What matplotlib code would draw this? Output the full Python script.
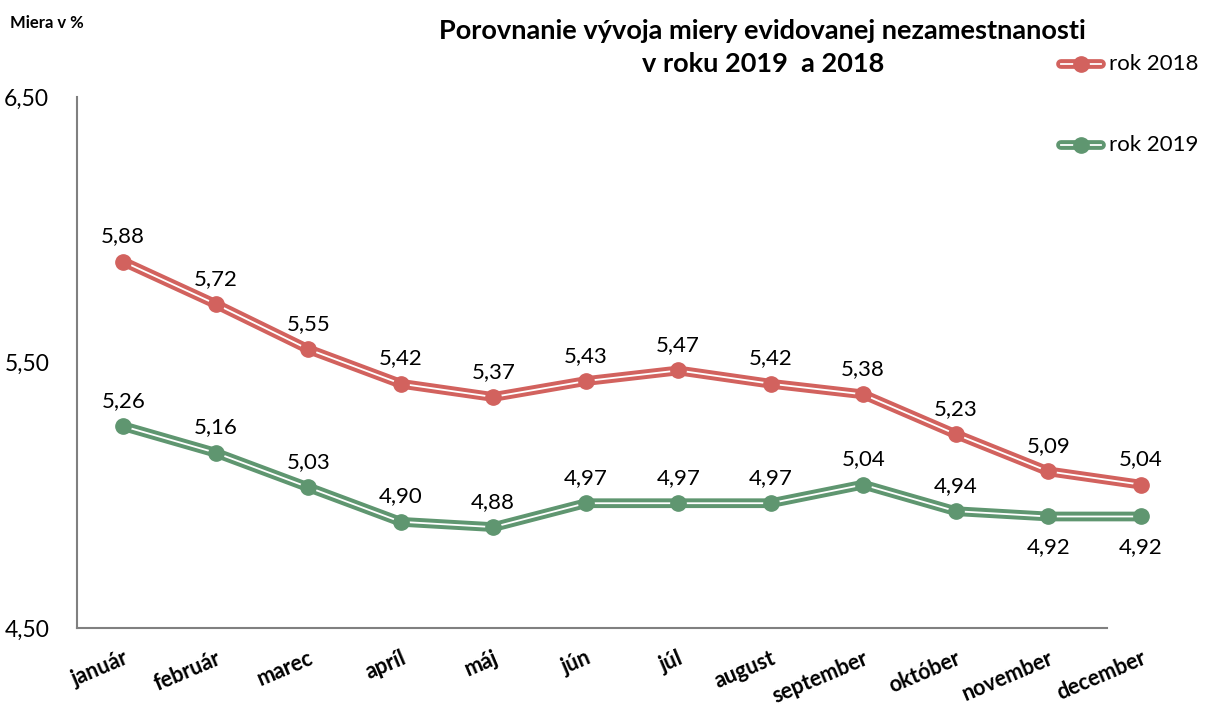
import matplotlib.pyplot as plt
from matplotlib.lines import Line2D
import numpy as np

plt.rcParams['font.family'] = ['Lato', 'DejaVu Sans']

months = ['január', 'február', 'marec', 'apríl', 'máj', 'jún', 'júl',
          'august', 'september', 'október', 'november', 'december']
rok_2018 = [5.88, 5.72, 5.55, 5.42, 5.37, 5.43, 5.47, 5.42, 5.38, 5.23, 5.09, 5.04]
rok_2019 = [5.26, 5.16, 5.03, 4.90, 4.88, 4.97, 4.97, 4.97, 5.04, 4.94, 4.92, 4.92]
y_ticks = [4.50, 5.50, 6.50]

red = '#d2625e'
green = '#5f9670'

fig = plt.figure(figsize=(12.07, 7.13), dpi=100)
ax = fig.add_axes([0.0638, 0.1192, 0.9196, 0.7448])
x = np.arange(len(months))


def draw_series(vals, color, below=()):
    ax.plot(x, vals, color=color, lw=7, solid_capstyle='round', zorder=2)
    ax.plot(x, vals, color='white', lw=1.3, zorder=3)
    ax.plot(x, vals, ls='none', marker='o', ms=11, mfc=color, mec=color, zorder=4)
    for i, v in enumerate(vals):
        lbl = f'{v:.2f}'.replace('.', ',')
        if i in below:
            ax.annotate(lbl, (i, v), xytext=(0, -15), textcoords='offset points',
                        ha='center', va='top', fontsize=16)
        else:
            ax.annotate(lbl, (i, v), xytext=(0, 11), textcoords='offset points',
                        ha='center', va='bottom', fontsize=16)


draw_series(rok_2018, red)
draw_series(rok_2019, green, below=(10, 11))

ax.set_xlim(-0.5, 11.5)
ax.set_ylim(4.50, 6.50)
ax.set_yticks(y_ticks)
ax.set_yticklabels([f'{t:.2f}'.replace('.', ',') for t in y_ticks], fontsize=16.5)
ax.set_xticks(x)
ax.set_xticklabels(months, rotation=23, ha='right', rotation_mode='anchor',
                   fontsize=15.5, fontweight='bold')
ax.tick_params(length=0)
ax.tick_params(axis='y', pad=20)
ax.tick_params(axis='x', pad=14)
for s in ['top', 'right']:
    ax.spines[s].set_visible(False)
for s in ['left', 'bottom']:
    ax.spines[s].set_color('#808080')
    ax.spines[s].set_linewidth(1.5)
ax.spines['bottom'].set_bounds(-0.5, 10.64)

fig.text(0.008, 0.968, 'Miera v %', fontsize=12, fontweight='bold', va='center')
fig.text(0.632, 0.933, 'Porovnanie vývoja miery evidovanej nezamestnanosti\nv roku 2019  a 2018',
         ha='center', va='center', fontsize=19.5, fontweight='bold', linespacing=1.45)

# legend
for ypos, color, name in [(0.91, red, 'rok 2018'), (0.797, green, 'rok 2019')]:
    fig.add_artist(Line2D([0.879, 0.912], [ypos, ypos], color=color, lw=7,
                          solid_capstyle='round', transform=fig.transFigure))
    fig.add_artist(Line2D([0.879, 0.912], [ypos, ypos], color='white', lw=1.3,
                          transform=fig.transFigure))
    fig.add_artist(Line2D([0.8955], [ypos], marker='o', ms=11, mfc=color, mec=color,
                          transform=fig.transFigure))
    fig.text(0.919, ypos, name, fontsize=16, va='center')

fig.savefig('out.png', dpi=100)
